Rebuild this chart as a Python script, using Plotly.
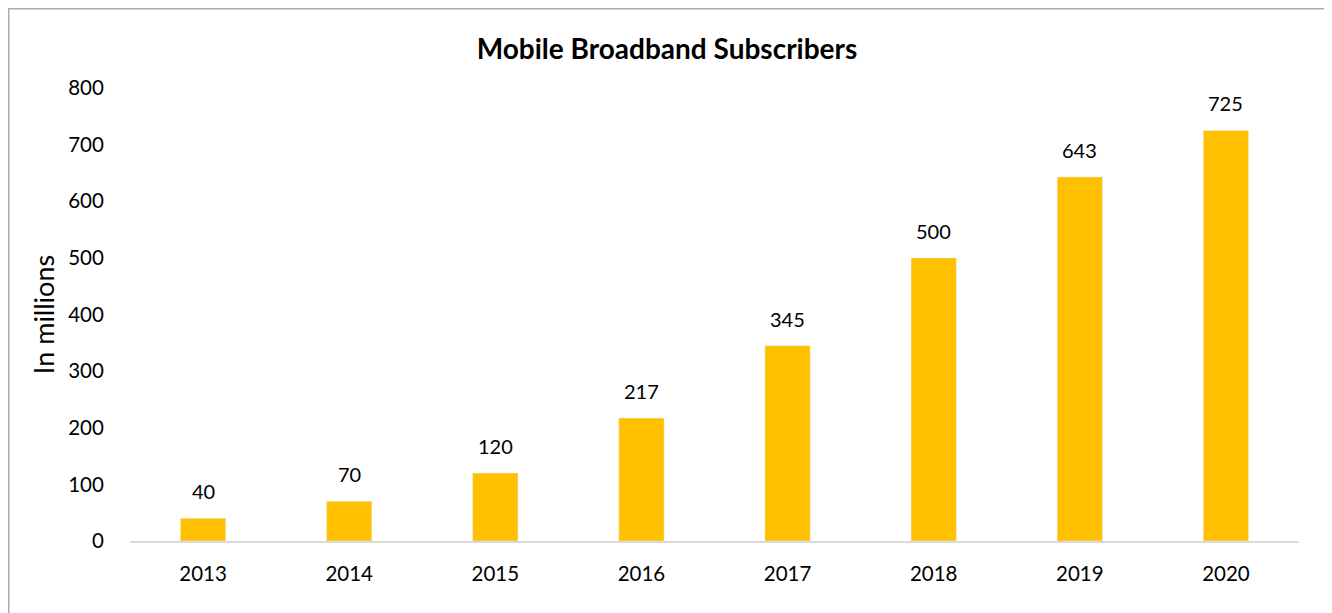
import plotly.graph_objects as go

years = ["2013", "2014", "2015", "2016", "2017", "2018", "2019", "2020"]
subscribers = [40, 70, 120, 217, 345, 500, 643, 725]
y_ticks = [0, 100, 200, 300, 400, 500, 600, 700, 800]

FONT = "Lato"
OFF = 8  # browser default body margin
W, H = 1332 - OFF, 613 - OFF
ML, MR, MT, MB = 130 - OFF, 33, 88 - OFF, 72

fig = go.Figure(go.Bar(
    x=years, y=subscribers, marker_color="#FFC000", width=0.31,
    hoverinfo="x+y",
))

# category axis: position annotations by category index
for i, v in enumerate(subscribers):
    fig.add_annotation(x=i, y=v, text=str(v), showarrow=False,
                       yanchor="bottom", yshift=13,
                       font=dict(family=FONT, size=20, color="#000000"))

pw = W - ML - MR
ph = H - MT - MB
def px_x(p):
    return (p - OFF - ML) / pw
def px_y(p):
    return (H - MB - (p - OFF)) / ph

fig.add_shape(type="rect", xref="paper", yref="paper",
              x0=px_x(8.5), x1=px_x(1328), y0=px_y(640), y1=px_y(8.5),
              line=dict(color="#ABABAB", width=2), fillcolor="rgba(0,0,0,0)",
              layer="below")

fig.update_layout(
    width=W, height=H,
    margin=dict(l=ML, r=MR, t=MT, b=MB),
    paper_bgcolor="white", plot_bgcolor="white",
    title=dict(text="<b>Mobile Broadband Subscribers</b>", x=(667 - OFF) / W, xref="container",
               xanchor="center", y=1 - (49 - OFF) / H, yanchor="middle",
               font=dict(family=FONT, size=28, color="#000000")),
    showlegend=False,
)
fig.update_xaxes(type="category", range=[-0.5, len(years) - 0.5],
                 showline=True, linecolor="#D9D9D9", linewidth=2,
                 showgrid=False, ticks="outside", ticklen=13, tickcolor="rgba(0,0,0,0)",
                 tickfont=dict(family=FONT, size=20.5, color="#000000"))
fig.update_yaxes(range=[0, 800], tickvals=y_ticks, showgrid=False, zeroline=False,
                 showline=False, ticks="outside", ticklen=21, tickcolor="rgba(0,0,0,0)",
                 tickfont=dict(family=FONT, size=20.5, color="#000000"),
                 title=dict(text="In millions", standoff=5,
                            font=dict(family=FONT, size=27, color="#000000")))

fig.write_html("out.html")
